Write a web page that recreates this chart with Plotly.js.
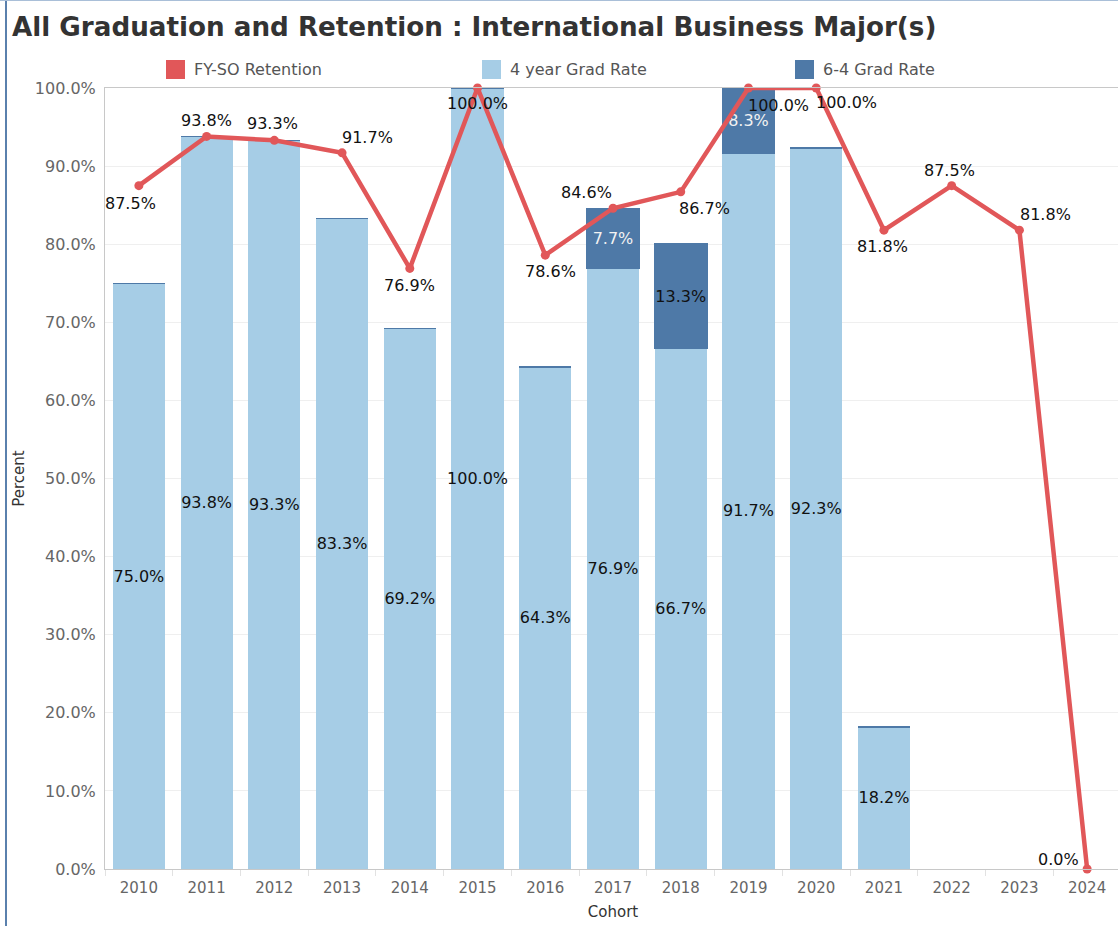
<!DOCTYPE html>
<html>
<head>
<meta charset="utf-8">
<script src="https://cdn.plot.ly/plotly-3.0.1.min.js"></script>
<style>
html,body{margin:0;padding:0;overflow:hidden;background:#fff;width:1118px;height:926px;}
#chart{position:absolute;left:0;top:0;}
#lborder{position:absolute;left:5px;top:0;width:2px;height:926px;background:#5a80ad;}
#tborder{position:absolute;left:0;top:0;width:1118px;height:1px;background:#a9bfd8;}
</style>
</head>
<body>
<div id="chart"></div>
<div id="lborder"></div>
<div id="tborder"></div>
<script>
const cohorts = ['2010','2011','2012','2013','2014','2015','2016','2017','2018','2019','2020','2021','2022','2023','2024'];
const gradRate4yr = [75.0, 93.8, 93.3, 83.3, 69.2, 100.0, 64.3, 76.9, 66.7, 91.7, 92.3, 18.2, null, null, null];
const gradRate64 = [0, 0, 0, 0, 0, 0, 0, 7.7, 13.3, 8.3, 0, 0, null, null, null];
const retention = [87.5, 93.8, 93.3, 91.7, 76.9, 100.0, 78.6, 84.6, 86.7, 100.0, 100.0, 81.8, 87.5, 81.8, 0.0];
const legendNames = ['FY-SO Retention', '4 year Grad Rate', '6-4 Grad Rate'];

const RED = '#e15759', LIGHT = '#a6cde6', DARK = '#4e79a7';
const FONT = 'DejaVu Sans, Verdana, sans-serif';

// label offsets (pixels) for the retention labels: style only
const retDx = [-8, 0, -2, 25, 0, 0, 5, -27, 24, 30, 30, -1, -2, 26, -29];
const retDy = [18, -16, -17, -15, 17, 15, 16, -16, 17, 17, 14, 16, -15, -16, -10];

const fmt = v => (v === null || v === undefined) ? '' : v.toFixed(1) + '%';

const traces = [
  {
    type: 'bar', x: cohorts, y: gradRate4yr, name: legendNames[1],
    marker: {color: LIGHT},
    text: gradRate4yr.map(fmt), textposition: 'inside', insidetextanchor: 'middle',
    textangle: 0, constraintext: 'none',
    textfont: {family: FONT, size: 16, color: '#111'},
    showlegend: false, hoverinfo: 'skip'
  },
  {
    type: 'bar', x: cohorts, y: gradRate64, name: legendNames[2],
    marker: {color: DARK, line: {color: DARK, width: 1.5}},
    text: gradRate64.map(v => (v ? fmt(v) : '')), textposition: 'inside', insidetextanchor: 'middle',
    textangle: 0, constraintext: 'none',
    textfont: {family: FONT, size: 16, color: gradRate64.map(v => v === 13.3 ? '#111' : '#f2f2f2')},
    showlegend: false, hoverinfo: 'skip'
  },
  {
    type: 'scatter', mode: 'lines+markers', x: cohorts, y: retention, name: legendNames[0],
    line: {color: RED, width: 4.5}, marker: {color: RED, size: 9},
    cliponaxis: false, showlegend: false, hoverinfo: 'skip'
  }
];

const legendX = [166, 482, 795];
const legendColors = [RED, LIGHT, DARK];
const W = 1122, H = 926;
const shapes = [], annotations = [];
legendX.forEach((px, i) => {
  shapes.push({type: 'rect', xref: 'paper', yref: 'paper', layer: 'above',
    x0: (px - 105) / (W - 106), x1: (px + 19 - 105) / (W - 106),
    y0: (869 - 60) / (869 - 88), y1: (869 - 79) / (869 - 88),
    fillcolor: legendColors[i], line: {width: 0}});
  annotations.push({xref: 'paper', yref: 'paper', x: (px + 26 - 105) / (W - 106), y: (869 - 69) / (869 - 88),
    xanchor: 'left', yanchor: 'middle', showarrow: false, text: legendNames[i],
    font: {family: FONT, size: 16, color: '#555'}});
});
retention.forEach((v, i) => {
  // x given as the category index on the category axis
  annotations.push({xref: 'x', yref: 'y', x: i, y: v, text: fmt(v), showarrow: false,
    xanchor: 'center', yanchor: 'middle', xshift: retDx[i], yshift: -retDy[i],
    font: {family: FONT, size: 16, color: '#111'}});
});

const layout = {
  width: W, height: H,
  margin: {l: 105, r: 1, t: 88, b: 57},
  paper_bgcolor: '#fff', plot_bgcolor: '#fff',
  barmode: 'stack', bargap: 0.23,
  showlegend: false,
  title: {text: '<b>All Graduation and Retention : International Business Major(s)</b>',
    x: 12 / W, xanchor: 'left', xref: 'container', y: 1 - 27 / H, yanchor: 'middle', yref: 'container',
    font: {family: FONT, size: 26.2, color: '#333'}},
  xaxis: {
    type: 'category', range: [-0.5, 14.5], autorange: false,
    showline: true, linecolor: '#c8c8c8', linewidth: 1, mirror: true,
    ticks: 'outside', tickson: 'boundaries', ticklen: 6, tickcolor: '#e2e2e2',
    ticklabelstandoff: 5,
    tickfont: {family: FONT, size: 15, color: '#666'},
    title: {text: 'Cohort', font: {family: FONT, size: 15, color: '#333'}, standoff: 10},
    showgrid: false, zeroline: false
  },
  yaxis: {
    range: [0, 100], autorange: false, showline: true, linecolor: '#c8c8c8', linewidth: 1,
    dtick: 10, tickformat: '.1f', ticksuffix: '%',
    ticklabelstandoff: 5,
    tickfont: {family: FONT, size: 16, color: '#666'},
    gridcolor: '#efefef', zeroline: false, ticks: '', ticklen: 0,
    title: {text: 'Percent', font: {family: FONT, size: 15, color: '#333'}, standoff: 6}
  },
  shapes: shapes, annotations: annotations
};

Plotly.newPlot('chart', traces, layout, {displayModeBar: false, staticPlot: true});
</script>
</body>
</html>
